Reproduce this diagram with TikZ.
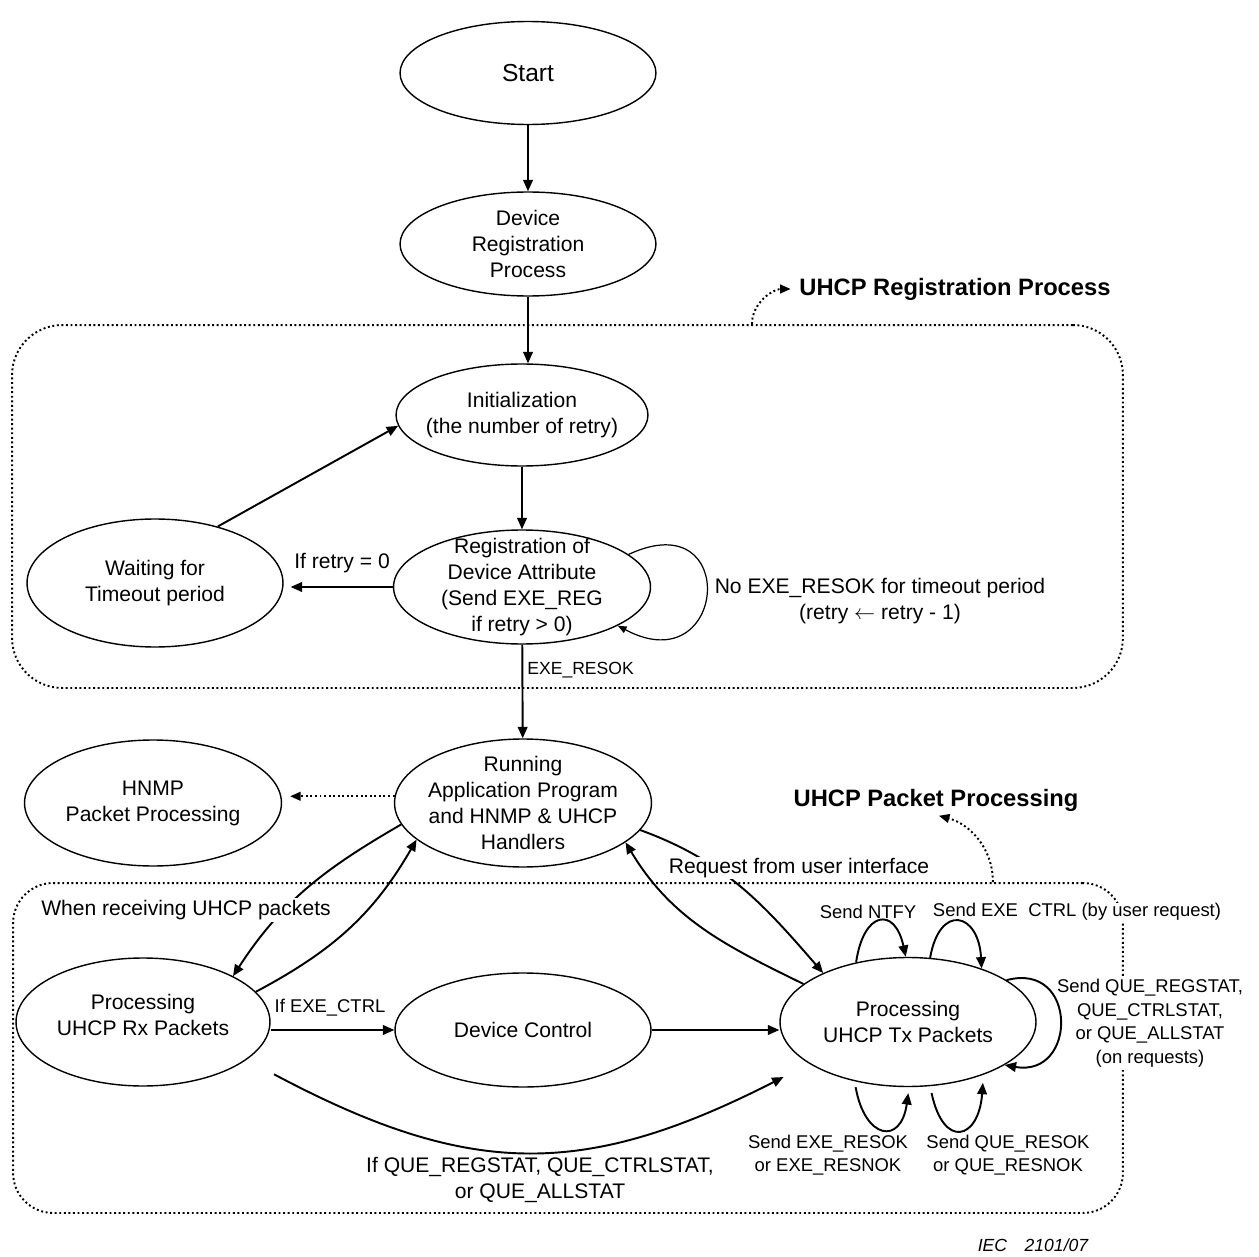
\documentclass[tikz,border=0pt]{standalone}
\usepackage{fontspec}
\setmainfont{Liberation Sans}
\usetikzlibrary{arrows.meta,shapes.geometric}
\begin{document}
\begin{tikzpicture}[x=0.02cm,y=0.02cm,
  st/.style={draw, ellipse, line width=0.8pt, minimum width=5.12cm, inner sep=0pt},
  txt/.style={font=\fontsize{12}{14.8}\selectfont, align=center, inner sep=0pt},
  sm/.style={font=\fontsize{10.5}{13.4}\selectfont, align=center, inner sep=0.5pt},
  conn/.style={line width=1.1pt, -{Triangle[length=6.5pt,width=5.5pt]}},
  thinloop/.style={line width=0.7pt, -{Triangle[length=5pt,width=4pt]}},
  dotbox/.style={draw, line width=1.1pt, dash pattern=on 1.1pt off 1.5pt, inner sep=0pt},
  dotarr/.style={line width=1.1pt, dash pattern=on 1.1pt off 1.5pt, -{Triangle[length=6pt,width=5pt]}},
  ttl/.style={font=\fontsize{13.5}{16}\selectfont\bfseries, inner sep=2pt}
]
\useasboundingbox (0,0) rectangle (1259,-1257);

% dotted group boxes
\node[dotbox, rounded corners=1cm, minimum width=22.22cm, minimum height=7.26cm] (regbox) at (567.5,-506.5) {};
\node[dotbox, rounded corners=0.8cm, minimum width=22.2cm, minimum height=6.6cm] (pktbox) at (568,-1048) {};

% titles
\node[ttl] (regtitle) at (955,-289) {UHCP Registration Process};
\node[ttl] (pkttitle) at (936,-800) {UHCP Packet Processing};
\draw[dotarr, shorten >=0.1cm] ([xshift=3.69cm]regbox.north) to[out=90,in=180] (regtitle.west);
\draw[dotarr, shorten >=0.06cm] ([xshift=8.5cm]pktbox.north) to[out=90,in=345] (pkttitle.south);

% states
\node[st, minimum height=2.06cm, label={[txt,font=\fontsize{14}{16}\selectfont]center:Start}] (start) at (528,-73) {};
\node[st, minimum height=2.08cm, label={[txt]center:{Device\\Registration\\Process}}] (devreg) at (528,-244) {};
\node[st, minimum width=5.04cm, minimum height=2.04cm, label={[txt]center:{Initialization\\(the number of retry)}}] (init) at (522,-415) {};
\node[st, minimum width=5.14cm, minimum height=2.28cm, label={[txt]center:{Registration of\\Device Attribute\\(Send EXE\_REG\\if retry > 0)}}] (regattr) at (522,-587) {};
\node[st, minimum height=2.56cm, label={[txt]center:{Waiting for\\Timeout period}}] (wait) at (155,-583) {};
\node[st, minimum width=5.14cm, minimum height=2.56cm, label={[txt]center:{Running\\Application Program\\and HNMP \& UHCP\\Handlers}}] (run) at (523,-803) {};
\node[st, minimum width=5.14cm, minimum height=2.52cm, label={[txt]center:{HNMP\\Packet Processing}}] (hnmp) at (153,-803) {};
\node[st, minimum width=5.08cm, minimum height=2.56cm, label={[txt,yshift=0.14cm]center:{Processing\\UHCP Rx Packets}}] (rx) at (143,-1022) {};
\node[st, minimum height=2.28cm, label={[txt]center:{Device Control}}] (devctl) at (523,-1030) {};
\node[st, minimum height=2.58cm, label={[txt]center:{Processing\\UHCP Tx Packets}}] (tx) at (908,-1022) {};

% labels that sit on the dotted frame
\node[sm, fill=white] (lblctrl) at (1077,-912) {Send EXE~~CTRL (by user request)};
\node[sm, fill=white, inner sep=2pt] (lblque) at (1150,-1023) {Send QUE\_REGSTAT,\\QUE\_CTRLSTAT,\\or QUE\_ALLSTAT\\(on requests)};

% main flow
\draw[conn] (start) -- (devreg);
\draw[conn] (devreg.south) -- (devreg.south |- init.north);
\draw[conn] (init) -- (regattr);
\draw[conn, shorten >=0.14cm] (regattr.west) -- (regattr.west -| wait.east);
\node[txt] (lblzero) at (342,-563) {If retry = 0};
\draw[conn] (wait.42) -- (init.185);
\draw[thinloop] (regattr.17) .. controls +(25:124) and +(-28:124) .. (regattr.-22);
\node[txt] (lblnores) at (880,-601) {No EXE\_RESOK for timeout period\\(retry \ensuremath{\leftarrow} retry - 1)};
\draw[conn] (regattr) -- (run);
\node[txt, font=\fontsize{10}{12}\selectfont, anchor=west] (lblresok) at (527,-670) {EXE\_RESOK};
\draw[dotarr, shorten >=0.16cm] (run.177) -- (run.177 -| hnmp.east);

% packet processing
\draw[conn] (run.190) to[out=210,in=57] (rx.27);
\draw[conn] (rx.15) to[out=28,in=240] (run.199);
\draw[conn] (run.347) to[out=340,in=131] (tx.150);
\draw[conn] (tx.160) to[out=154,in=301] (run.339);
\node[txt, fill=white, inner sep=1pt] (lblrecv) at (186,-910) {When receiving UHCP packets};
\node[txt, fill=white, inner sep=0.5pt] (lblreq) at (799,-868) {Request from user interface};

\draw[conn] (devctl.west -| rx.east) -- (devctl.west);
\node[sm] (lblexe) at (330,-1008) {If EXE\_CTRL};
\draw[conn] (devctl.east) -- (devctl.east -| tx.west);
\draw[conn, shorten <=0.62cm, shorten >=0.58cm] (rx.-20) .. controls +(-28:253) and +(207:253) .. (tx.203);
\node[txt] (lblstat) at (540,-1180) {If QUE\_REGSTAT, QUE\_CTRLSTAT,\\or QUE\_ALLSTAT};

% Tx self loops
\draw[conn] (tx.131) .. controls +(82:52) and +(102:52) .. (tx.92);
\node[sm] (lblntfy) at (868,-912) {Send NTFY};
\draw[conn] (tx.71) .. controls +(80:56) and +(93:56) .. (tx.36);
\draw[conn] (tx.23) .. controls +(15:74) and +(-10:74) .. (tx.-24);
\draw[conn, shorten <=0.12cm, shorten >=0.12cm] (tx.228) .. controls +(-80:59) and +(-98:59) .. (tx.271);
\draw[conn, shorten <=0.14cm, shorten >=0.16cm] (tx.289) .. controls +(-78:65) and +(-94:65) .. (tx.325);
\node[sm] (lblexeres) at (828,-1155) {Send EXE\_RESOK\\or EXE\_RESNOK};
\node[sm] (lblqueres) at (1008,-1155) {Send QUE\_RESOK\\or QUE\_RESNOK};

\node[font=\fontsize{10}{12}\selectfont\itshape, inner sep=1pt] (iec) at (1033,-1245) {IEC\hspace{10pt}2101/07};
\end{tikzpicture}
\end{document}
